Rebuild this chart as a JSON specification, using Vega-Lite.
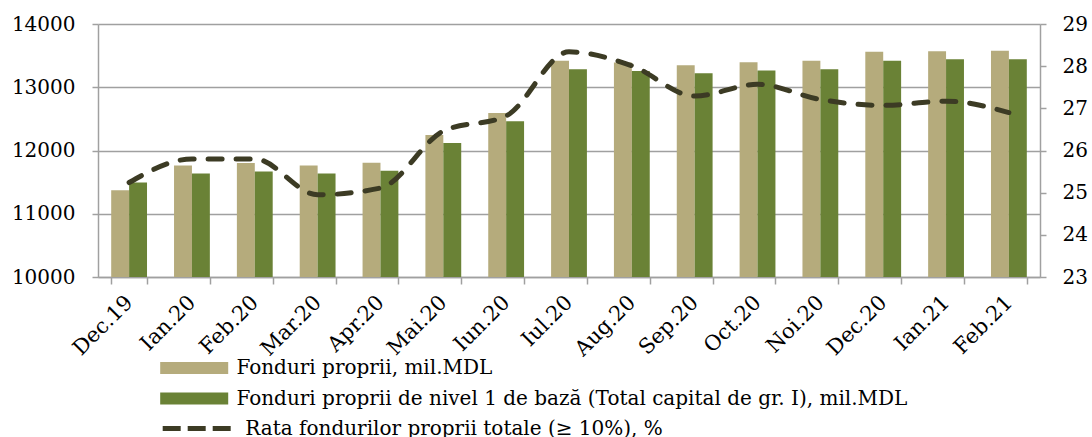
{
  "$schema": "https://vega.github.io/schema/vega-lite/v6.json",
  "width": 942,
  "height": 253,
  "autosize": {"type": "none"},
  "padding": {"left": 98, "top": 24, "right": 52, "bottom": 160},
  "background": "white",
  "config": {
    "view": {"stroke": null},
    "font": "DejaVu Serif",
    "axis": {
      "labelFont": "DejaVu Serif",
      "labelFontSize": 20,
      "labelColor": "#000000",
      "domainColor": "#a0a0a0",
      "domainWidth": 1.5,
      "tickColor": "#a0a0a0",
      "tickWidth": 1.5,
      "gridColor": "#a0a0a0",
      "gridWidth": 1.5,
      "title": null
    },
    "legend": {"padding": 0}
  },
  "datasets": {
    "bars": [
      {"month": "Dec.19", "series": "Fonduri proprii, mil.MDL", "value": 11372},
      {"month": "Ian.20", "series": "Fonduri proprii, mil.MDL", "value": 11764},
      {"month": "Feb.20", "series": "Fonduri proprii, mil.MDL", "value": 11801},
      {"month": "Mar.20", "series": "Fonduri proprii, mil.MDL", "value": 11764},
      {"month": "Apr.20", "series": "Fonduri proprii, mil.MDL", "value": 11807},
      {"month": "Mai.20", "series": "Fonduri proprii, mil.MDL", "value": 12246},
      {"month": "Iun.20", "series": "Fonduri proprii, mil.MDL", "value": 12591},
      {"month": "Iul.20", "series": "Fonduri proprii, mil.MDL", "value": 13417},
      {"month": "Aug.20", "series": "Fonduri proprii, mil.MDL", "value": 13391},
      {"month": "Sep.20", "series": "Fonduri proprii, mil.MDL", "value": 13348},
      {"month": "Oct.20", "series": "Fonduri proprii, mil.MDL", "value": 13396},
      {"month": "Noi.20", "series": "Fonduri proprii, mil.MDL", "value": 13417},
      {"month": "Dec.20", "series": "Fonduri proprii, mil.MDL", "value": 13560},
      {"month": "Ian.21", "series": "Fonduri proprii, mil.MDL", "value": 13571},
      {"month": "Feb.21", "series": "Fonduri proprii, mil.MDL", "value": 13576},
      {"month": "Dec.19", "series": "Fonduri proprii de nivel 1 de bază (Total capital de gr. I), mil.MDL", "value": 11494},
      {"month": "Ian.20", "series": "Fonduri proprii de nivel 1 de bază (Total capital de gr. I), mil.MDL", "value": 11637},
      {"month": "Feb.20", "series": "Fonduri proprii de nivel 1 de bază (Total capital de gr. I), mil.MDL", "value": 11669},
      {"month": "Mar.20", "series": "Fonduri proprii de nivel 1 de bază (Total capital de gr. I), mil.MDL", "value": 11637},
      {"month": "Apr.20", "series": "Fonduri proprii de nivel 1 de bază (Total capital de gr. I), mil.MDL", "value": 11679},
      {"month": "Mai.20", "series": "Fonduri proprii de nivel 1 de bază (Total capital de gr. I), mil.MDL", "value": 12119},
      {"month": "Iun.20", "series": "Fonduri proprii de nivel 1 de bază (Total capital de gr. I), mil.MDL", "value": 12464},
      {"month": "Iul.20", "series": "Fonduri proprii de nivel 1 de bază (Total capital de gr. I), mil.MDL", "value": 13285},
      {"month": "Aug.20", "series": "Fonduri proprii de nivel 1 de bază (Total capital de gr. I), mil.MDL", "value": 13258},
      {"month": "Sep.20", "series": "Fonduri proprii de nivel 1 de bază (Total capital de gr. I), mil.MDL", "value": 13221},
      {"month": "Oct.20", "series": "Fonduri proprii de nivel 1 de bază (Total capital de gr. I), mil.MDL", "value": 13264},
      {"month": "Noi.20", "series": "Fonduri proprii de nivel 1 de bază (Total capital de gr. I), mil.MDL", "value": 13285},
      {"month": "Dec.20", "series": "Fonduri proprii de nivel 1 de bază (Total capital de gr. I), mil.MDL", "value": 13417},
      {"month": "Ian.21", "series": "Fonduri proprii de nivel 1 de bază (Total capital de gr. I), mil.MDL", "value": 13444},
      {"month": "Feb.21", "series": "Fonduri proprii de nivel 1 de bază (Total capital de gr. I), mil.MDL", "value": 13444}
    ],
    "rate": [
      {"month": "Dec.19", "series": "Rata fondurilor proprii totale (≥ 10%), %", "rate": 25.24},
      {"month": "Ian.20", "series": "Rata fondurilor proprii totale (≥ 10%), %", "rate": 25.8},
      {"month": "Feb.20", "series": "Rata fondurilor proprii totale (≥ 10%), %", "rate": 25.8},
      {"month": "Mar.20", "series": "Rata fondurilor proprii totale (≥ 10%), %", "rate": 24.95},
      {"month": "Apr.20", "series": "Rata fondurilor proprii totale (≥ 10%), %", "rate": 25.11},
      {"month": "Mai.20", "series": "Rata fondurilor proprii totale (≥ 10%), %", "rate": 26.46},
      {"month": "Iun.20", "series": "Rata fondurilor proprii totale (≥ 10%), %", "rate": 26.82},
      {"month": "Iul.20", "series": "Rata fondurilor proprii totale (≥ 10%), %", "rate": 28.34},
      {"month": "Aug.20", "series": "Rata fondurilor proprii totale (≥ 10%), %", "rate": 28.01},
      {"month": "Sep.20", "series": "Rata fondurilor proprii totale (≥ 10%), %", "rate": 27.29},
      {"month": "Oct.20", "series": "Rata fondurilor proprii totale (≥ 10%), %", "rate": 27.57},
      {"month": "Noi.20", "series": "Rata fondurilor proprii totale (≥ 10%), %", "rate": 27.21},
      {"month": "Dec.20", "series": "Rata fondurilor proprii totale (≥ 10%), %", "rate": 27.07},
      {"month": "Ian.21", "series": "Rata fondurilor proprii totale (≥ 10%), %", "rate": 27.17},
      {"month": "Feb.21", "series": "Rata fondurilor proprii totale (≥ 10%), %", "rate": 26.9}
    ]
  },
  "layer": [
    {
      "data": {"name": "bars"},
      "mark": {"type": "bar", "clip": true},
      "encoding": {
        "x": {
          "field": "month",
          "type": "nominal",
          "scale": {
            "domain": ["Dec.19", "Ian.20", "Feb.20", "Mar.20", "Apr.20", "Mai.20", "Iun.20", "Iul.20", "Aug.20", "Sep.20", "Oct.20", "Noi.20", "Dec.20", "Ian.21", "Feb.21"],
            "paddingInner": 0.43,
            "paddingOuter": 0.21
          },
          "axis": {
            "title": null,
            "labelAngle": -45,
            "labelAlign": "right",
            "labelBaseline": "middle",
            "labelFontSize": 21,
            "tickBand": "extent",
            "tickSize": 7,
            "labelPadding": 15,
            "labelLimit": 300,
            "grid": false
          }
        },
        "xOffset": {
          "field": "series",
          "type": "nominal",
          "scale": {
            "domain": ["Fonduri proprii, mil.MDL", "Fonduri proprii de nivel 1 de bază (Total capital de gr. I), mil.MDL"],
            "paddingInner": 0,
            "paddingOuter": 0
          }
        },
        "y": {
          "field": "value",
          "type": "quantitative",
          "scale": {"domain": [10000, 14000], "nice": false, "zero": false},
          "axis": {
            "title": null,
            "values": [10000, 11000, 12000, 13000, 14000],
            "format": "d",
            "tickSize": 6,
            "labelPadding": 17,
            "grid": true
          }
        },
        "color": {
          "field": "series",
          "type": "nominal",
          "scale": {
            "domain": ["Fonduri proprii, mil.MDL", "Fonduri proprii de nivel 1 de bază (Total capital de gr. I), mil.MDL"],
            "range": ["#b5ab7c", "#6a8236"]
          },
          "legend": {
            "title": null,
            "orient": "none",
            "legendX": 84.7,
            "legendY": 332.6,
            "direction": "vertical",
            "symbolType": "M-3,-0.53H3V0.53H-3Z",
            "symbolSize": 514,
            "symbolStrokeWidth": 0,
            "labelFont": "DejaVu Serif",
            "labelFontSize": 20,
            "labelColor": "#000000",
            "labelOffset": 30.7,
            "labelLimit": 1000,
            "rowPadding": 8.5
          }
        }
      }
    },
    {
      "data": {"name": "rate"},
      "mark": {"type": "line", "strokeWidth": 5, "strokeDash": [14, 14], "strokeCap": "round", "interpolate": "monotone"},
      "encoding": {
        "x": {"field": "month", "type": "nominal"},
        "y": {
          "field": "rate",
          "type": "quantitative",
          "scale": {"domain": [23, 29], "nice": false, "zero": false},
          "axis": {
            "title": null,
            "orient": "right",
            "values": [23, 24, 25, 26, 27, 28, 29],
            "tickSize": 6,
            "labelPadding": 16,
            "grid": false
          }
        },
        "color": {
          "field": "series",
          "type": "nominal",
          "scale": {"range": ["#3c3b24"]},
          "legend": {
            "title": null,
            "orient": "none",
            "legendX": 84.7,
            "legendY": 390.6,
            "symbolType": "M-3,0H3",
            "symbolSize": 514,
            "symbolStrokeWidth": 5,
            "symbolDash": [18, 7],
            "symbolFillColor": "transparent",
            "labelFont": "DejaVu Serif",
            "labelFontSize": 20,
            "labelColor": "#000000",
            "labelOffset": 34.6,
            "labelLimit": 1000
          }
        }
      }
    }
  ],
  "resolve": {"scale": {"y": "independent", "color": "independent"}}
}
